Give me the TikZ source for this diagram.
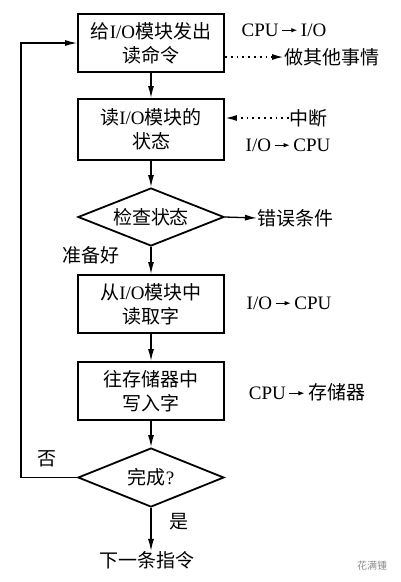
\documentclass[tikz,border=0pt]{standalone}
\usepackage{fontspec}
\setmainfont{Liberation Serif}
\newfontfamily\cjk{Noto Sans CJK SC}
\newcommand\zh[1]{{\cjk #1}}
\usetikzlibrary{shapes.geometric,arrows.meta}
\newcommand\rarr{\,\tikz[baseline={(0,-6pt)},x=1pt,y=1pt]\draw[line width=1pt,-{Latex[length=6pt,width=4.5pt]}] (0,0)--(15,0);\,}
\begin{document}
\begin{tikzpicture}[x=1pt,y=-1pt,
  every node/.style={font=\fontsize{19pt}{24pt}\selectfont, inner sep=0pt},
  stepbox/.style={draw, line width=1.8pt, minimum width=146pt, minimum height=58pt, align=center},
  decide/.style={draw, diamond, line width=1.8pt, minimum width=146pt, minimum height=58pt, aspect=2.5},
  arr/.style={line width=1.3pt, -{Latex[length=12pt,width=6pt]}},
  dotarr/.style={line width=1.8pt, dash pattern=on 1.8pt off 4pt, -{Latex[length=12pt,width=6pt]}}
]
\useasboundingbox (0,0) rectangle (400,582);
\fill[white] (0,0) rectangle (400,582);

\node[stepbox] (b1) at (151,43) {\zh{给}I/O\zh{模块发出}\\\zh{读命令}};
\node[stepbox, minimum height=61pt] (b2) at (151,129.5) {\zh{读}I/O\zh{模块的}\\\zh{状态}};
\node[decide] (d1) at (151,217) {\zh{检查状态}};
\node[stepbox] (b3) at (151,304) {\zh{从}I/O\zh{模块中}\\\zh{读取字}};
\node[stepbox] (b4) at (151,391) {\zh{往存储器中}\\\zh{写入字}};
\node[decide, minimum height=59pt] (d2) at (151,477.5) {\zh{完成}?};
\node (end) at (147,560) {\zh{下一条指令}};

% side labels
\node (l1) at (284,30) {CPU\rarr I/O};
\node[anchor=west] (other) at (284,57) {\zh{做其他事情}};
\node[anchor=west] (intr) at (289,118) {\zh{中断}};
\node (l2) at (288,145) {I/O\rarr CPU};
\node[anchor=west] (err) at (257,218) {\zh{错误条件}};
\node (ready) at (91,255) {\zh{准备好}};
\node (l3) at (289,303) {I/O\rarr CPU};
\node (l4) at (307,392) {CPU\rarr\zh{存储器}};
\node (no) at (47,459) {\zh{否}};
\node (yes) at (179,522) {\zh{是}};
\node[text=black!45, font=\fontsize{10pt}{10pt}\selectfont] (wm) at (372,566) {\zh{花满锺}};

% connectors
\draw[dotarr] (b1.east |- other.west) -- (other.west);
\draw[dotarr] (intr.west) -- (b2.east |- intr.west);
\draw[arr] (b1) -- (b2);
\draw[arr] (b2) -- (d1);
\draw[arr] (d1.east) -- (err.west);
\draw[arr] (d1) -- (b3);
\draw[arr] (b3) -- (b4);
\draw[arr] (b4) -- (d2);
\draw[arr] (d2.south) -- (d2.south |- end.north);
\coordinate (lx) at (21,477.5);
\draw[arr] (d2.west) -- (lx) |- (b1.west);
\end{tikzpicture}
\end{document}
